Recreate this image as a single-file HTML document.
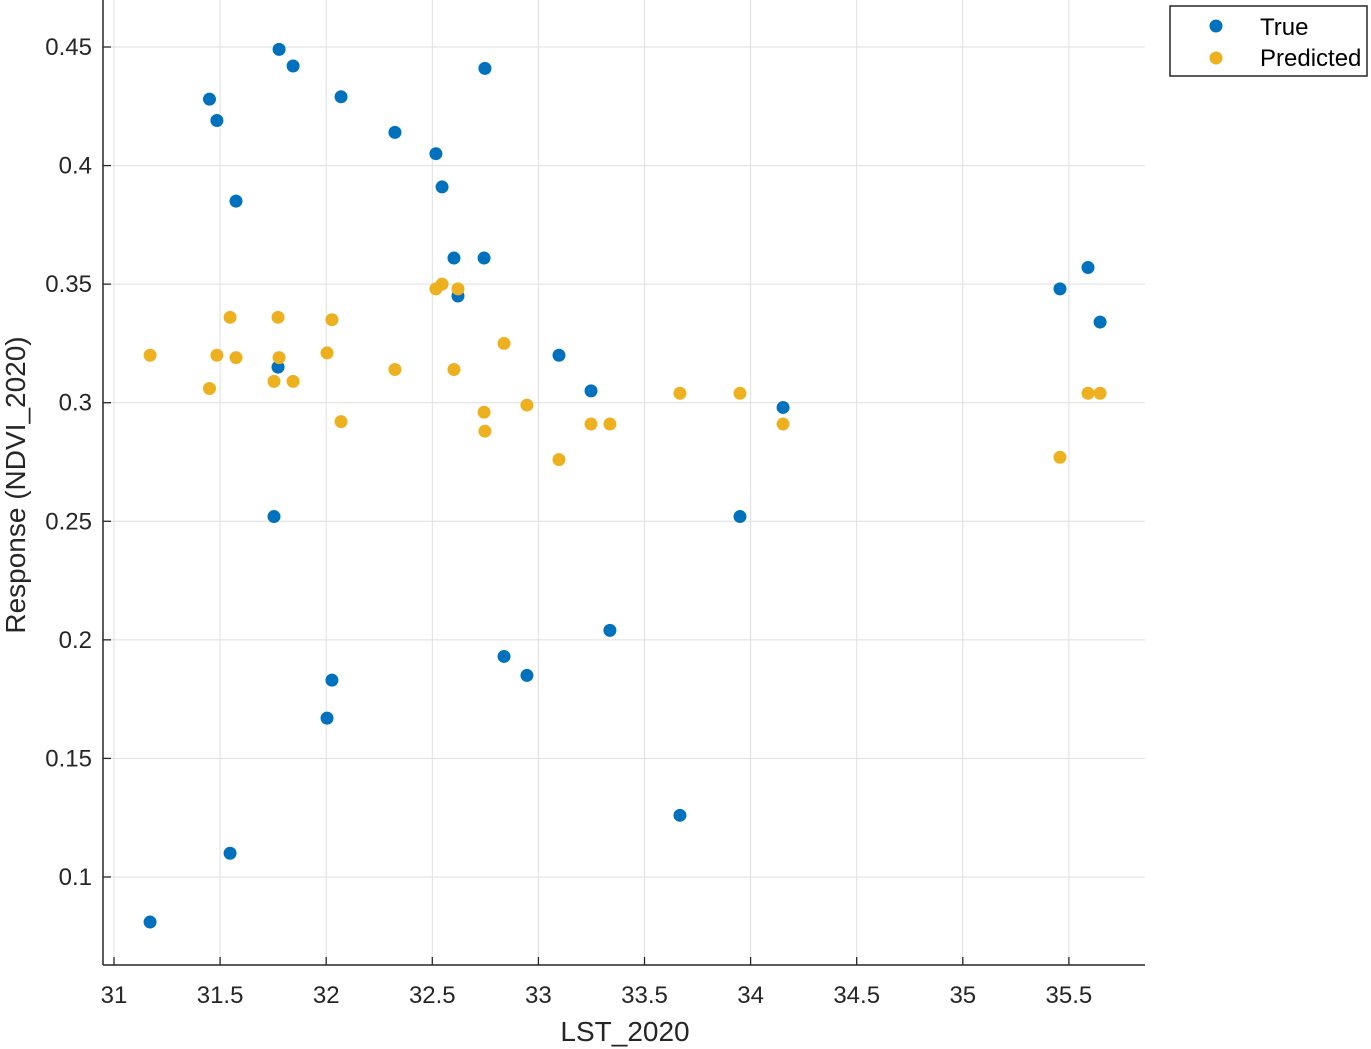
<!DOCTYPE html>
<html><head><meta charset="utf-8"><style>
body{margin:0;background:#fff;font-family:"Liberation Sans",sans-serif}
svg{display:block}
</style></head><body>
<svg id="chart" width="1371" height="1049">
<g id="grid"></g>
<g id="axes"></g>
<g id="marks"></g>
<text x="625" y="1041" font-size="28" text-anchor="middle" fill="#262626">LST_2020</text>
<text transform="translate(25,485) rotate(-90)" font-size="28" text-anchor="middle" fill="#262626">Response (NDVI_2020)</text>
<g>
<rect x="1170" y="6" width="197" height="70" fill="#fff" stroke="#262626" stroke-width="1.5"/>
<circle cx="1216" cy="26" r="6.5" fill="#0072BD"/>
<text x="1260" y="35" font-size="24" fill="#000">True</text>
<circle cx="1216" cy="58" r="6.5" fill="#EDB120"/>
<text x="1260" y="66" font-size="24" fill="#000">Predicted</text>
</g>
</svg>
<script>
const xVals=[31.17,31.45,31.485,31.575,31.547,31.754,31.773,31.778,31.844,32.004,32.027,32.07,32.324,32.517,32.546,32.602,32.621,32.744,32.748,32.838,32.946,33.097,33.248,33.337,33.667,33.95,34.153,35.458,35.59,35.647];
const trueVals=[0.081,0.428,0.419,0.385,0.110,0.252,0.315,0.449,0.442,0.167,0.183,0.429,0.414,0.405,0.391,0.361,0.345,0.361,0.441,0.193,0.185,0.320,0.305,0.204,0.126,0.252,0.298,0.348,0.357,0.334];
const predVals=[0.320,0.306,0.320,0.319,0.336,0.309,0.336,0.319,0.309,0.321,0.335,0.292,0.314,0.348,0.350,0.314,0.348,0.296,0.288,0.325,0.299,0.276,0.291,0.291,0.304,0.304,0.291,0.277,0.304,0.304];
const xTicks=[31,31.5,32,32.5,33,33.5,34,34.5,35,35.5];
const yTicks=[0.1,0.15,0.2,0.25,0.3,0.35,0.4,0.45];
const NS="http://www.w3.org/2000/svg";
const L=103,R=1145,B=965,T=0;
const sx=v=>114+(v-31)*212.2;
const sy=v=>47+(0.45-v)*2371.4;
function mk(tag,attrs,parent){const e=document.createElementNS(NS,tag);for(const k in attrs)e.setAttribute(k,attrs[k]);parent.appendChild(e);return e;}
const grid=document.getElementById('grid'),axes=document.getElementById('axes'),marks=document.getElementById('marks');
xTicks.forEach(t=>{const x=sx(t);
const g=mk('line',{x1:x,x2:x,y1:T,y2:B,stroke:'#dfdfdf','stroke-width':1},grid);


const tk=mk('line',{x1:x,x2:x,y1:B,y2:B-8,stroke:'#262626','stroke-width':1.3},axes);


const tx=mk('text',{x:x,y:1003,'font-size':24,'text-anchor':'middle',fill:'#262626'},axes);tx.textContent=t;

});
yTicks.forEach(t=>{const y=sy(t);
const g=mk('line',{x1:L,x2:R,y1:y,y2:y,stroke:'#dfdfdf','stroke-width':1},grid);


const tk=mk('line',{x1:L,x2:L+8,y1:y,y2:y,stroke:'#262626','stroke-width':1.3},axes);


const tx=mk('text',{x:92,y:y+8,'font-size':24,'text-anchor':'end',fill:'#262626'},axes);tx.textContent=t;

});
const ax1=mk('line',{x1:L,x2:R,y1:B,y2:B,stroke:'#262626','stroke-width':1.5},axes);


const ax2=mk('line',{x1:L,x2:L,y1:T,y2:B,stroke:'#262626','stroke-width':1.5},axes);


xVals.forEach((x,i)=>{
const c=mk('circle',{cx:sx(x),cy:sy(trueVals[i]),r:6.5,fill:'#0072BD'},marks);

});
xVals.forEach((x,i)=>{
const c=mk('circle',{cx:sx(x),cy:sy(predVals[i]),r:6.5,fill:'#EDB120'},marks);

});
</script>
</body></html>
